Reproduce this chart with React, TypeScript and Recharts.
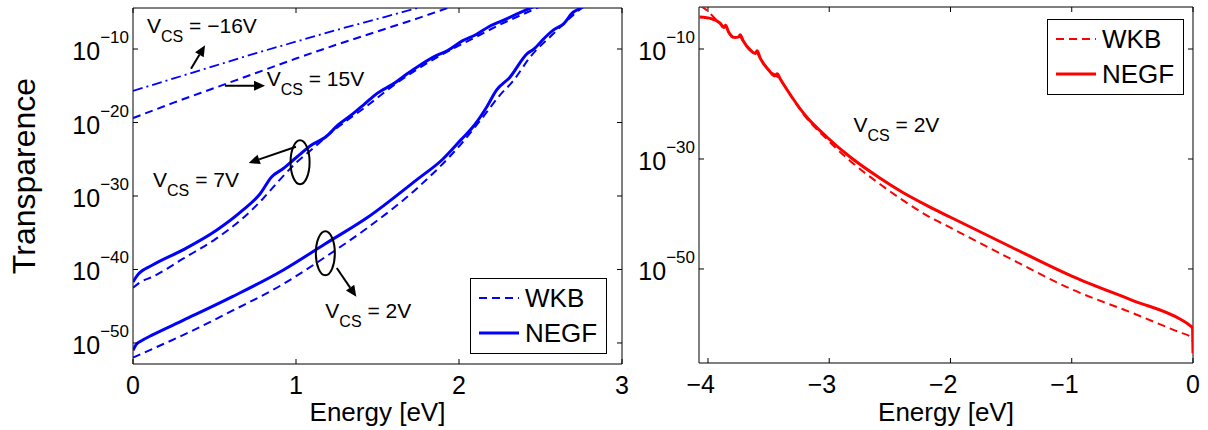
import React from 'react';
import {
  LineChart,
  Line,
  XAxis,
  YAxis,
  ReferenceArea,
  ReferenceDot,
  ReferenceLine,
  Legend,
} from 'recharts';

const FONT = "'Liberation Sans', Arial, Helvetica, sans-serif";
const BLUE = '#0000ff';
const RED = '#ff0000';

// values are log10(transparence)

// left panel, energy in eV
const v16Energy = [0, 0.25, 0.5, 0.75, 1.0, 1.25, 1.5, 1.75, 2.0];
const v16Wkb = [-15.7, -14.0, -12.3, -10.6, -9.0, -7.4, -5.9, -4.4, -2.9];

const v15Energy = [0, 0.25, 0.5, 0.75, 1.0, 1.25, 1.5, 1.75, 2.0, 2.2];
const v15Wkb = [-19.4, -17.3, -15.3, -13.3, -11.3, -9.4, -7.6, -5.8, -3.9, -2.5];

const v7NegfEnergy = [0, 0.03, 0.12, 0.31, 0.51, 0.67, 0.78, 0.85, 0.92, 1.0, 1.1, 1.18, 1.26, 1.35, 1.42, 1.5, 1.6, 1.68, 1.76, 1.86, 1.93, 2.02, 2.1, 2.18, 2.26, 2.35, 2.45, 2.55];
const v7Negf = [-41.7, -40.7, -39.4, -37.3, -34.7, -32.0, -29.7, -27.4, -26.3, -24.8, -23.0, -22.0, -20.3, -18.8, -17.5, -16.0, -14.7, -13.4, -12.2, -10.9, -10.2, -8.9, -8.1, -7.0, -6.2, -5.3, -4.3, -3.3];
const v7WkbEnergy = [0, 0.04, 0.12, 0.31, 0.51, 0.67, 0.8, 0.9, 1.0, 1.1, 1.23, 1.42, 1.62, 1.86, 2.1, 2.25, 2.45, 2.58];
const v7Wkb = [-42.5, -41.8, -41.0, -38.5, -35.8, -33.1, -30.3, -27.8, -25.5, -23.6, -21.1, -18.0, -14.6, -11.2, -8.4, -6.7, -4.7, -3.4];

const v2NegfEnergy = [0, 0.02, 0.06, 0.12, 0.31, 0.61, 0.92, 1.18, 1.44, 1.74, 1.9, 2.01, 2.1, 2.17, 2.23, 2.31, 2.42, 2.46, 2.52, 2.58, 2.64, 2.7, 2.75, 2.82];
const v2Negf = [-51.0, -50.2, -49.6, -48.9, -46.9, -43.7, -40.1, -36.5, -32.9, -27.8, -25.0, -22.4, -20.2, -17.9, -15.6, -13.9, -10.6, -10.0, -8.6, -7.4, -6.6, -5.0, -4.4, -3.2];
const v2WkbEnergy = [0, 0.12, 0.31, 0.61, 0.92, 1.18, 1.44, 1.74, 2.01, 2.17, 2.25, 2.33, 2.44, 2.58, 2.7, 2.8];
const v2Wkb = [-52.0, -50.8, -48.9, -45.6, -42.0, -38.3, -34.3, -29.0, -23.0, -18.6, -16.3, -14.4, -11.0, -7.9, -5.4, -3.6];

// right panel, V_CS = 2V, negative energies
const rNegfEnergy = [-4.07, -3.97, -3.9, -3.87, -3.855, -3.83, -3.78, -3.745, -3.735, -3.71, -3.65, -3.61, -3.595, -3.57, -3.5, -3.45, -3.43, -3.4, -3.3, -3.2, -3.02, -2.83, -2.58, -2.4, -2.2, -2.0, -1.5, -1.0, -0.5, -0.1, -0.03, -0.005, 0];
const rNegf = [-4.2, -4.5, -5.3, -6.1, -5.7, -6.9, -7.9, -7.8, -7.4, -8.5, -10.2, -10.8, -10.3, -11.6, -13.8, -14.9, -14.5, -15.6, -19.0, -22.0, -26.0, -29.6, -33.5, -36.0, -38.4, -40.6, -46.0, -51.3, -55.7, -59.2, -60.2, -60.7, -65.3];
const rWkbEnergy = [-4.06, -4.03, -3.97, -3.9, -3.86, -3.85, -3.83, -3.78, -3.74, -3.71, -3.65, -3.6, -3.57, -3.5, -3.44, -3.4, -3.3, -3.2, -3.02, -2.83, -2.58, -2.4, -2.2, -2.0, -1.5, -1.0, -0.5, -0.1, -0.03, 0];
const rWkb = [-2.2, -2.6, -3.8, -5.4, -6.0, -5.9, -7.0, -8.0, -7.7, -8.6, -10.3, -10.6, -11.7, -13.9, -14.8, -15.7, -19.1, -22.2, -26.4, -30.3, -34.6, -37.4, -40.2, -42.5, -48.2, -53.7, -58.0, -61.6, -62.2, -63.2];

const leftXTicks = [0, 1, 2, 3];
const leftYTicks = [-50, -40, -30, -20, -10];
const rightXTicks = [-4, -3, -2, -1, 0];
const rightYTicks = [-50, -30, -10];
const legendNames = ['WKB', 'NEGF'];

const toRows = (energy: number[], logT: number[]) =>
  energy.map((E, i) => ({ E, T: Math.pow(10, logT[i]) }));

const pow = (e: number) => Math.pow(10, e);

// layout
const L_W = 640;
const L_LEFT = 133;
const L_RIGHT = 622;
const L_TOP = 8;
const L_BOTTOM = 364;
const R_OFF = 610;
const R_W = 598;
const R_LEFT = 89;
const R_RIGHT = 583;
const R_TOP = 7;
const R_BOTTOM = 363;

function makeYTick(plotLeft: number, plotRight: number) {
  return (props: any) => {
    const { y, payload } = props;
    const n = Math.round(Math.log10(payload.value));
    return (
      <g>
        <line x1={plotLeft} x2={plotLeft + 5} y1={y} y2={y} stroke="#000" />
        <line x1={plotRight} x2={plotRight - 5} y1={y} y2={y} stroke="#000" />
        <text x={plotLeft - 4} y={y + 11} textAnchor="end" fontFamily={FONT} fill="#000">
          <tspan fontSize={25}>10</tspan>
          <tspan fontSize={17} dy={-17}>{`\u2212${Math.abs(n)}`}</tspan>
        </text>
      </g>
    );
  };
}

function makeXTick(plotTop: number, plotBottom: number) {
  return (props: any) => {
    const { x, payload } = props;
    const v = payload.value;
    const label = v < 0 ? `\u2212${Math.abs(v)}` : String(v);
    return (
      <g>
        <line x1={x} x2={x} y1={plotBottom} y2={plotBottom - 5} stroke="#000" />
        <line x1={x} x2={x} y1={plotTop} y2={plotTop + 5} stroke="#000" />
        <text x={x + 7} y={plotBottom + 30} textAnchor="end" fontSize={25} fontFamily={FONT} fill="#000">
          {label}
        </text>
      </g>
    );
  };
}

function VcsText({ cx, cy, value }: any) {
  return (
    <text x={cx} y={cy} fontFamily={FONT} fontSize={21} fill="#000">
      V
      <tspan fontSize={16} dy={9}>CS</tspan>
      <tspan dy={-9}>{` = ${value}`}</tspan>
    </text>
  );
}

function Arrow(props: any) {
  const { x1, y1, x2, y2 } = props;
  const a = Math.atan2(y2 - y1, x2 - x1);
  const len = 11;
  const w = 5;
  const bx = x2 - len * Math.cos(a);
  const by = y2 - len * Math.sin(a);
  const pts = `${x2},${y2} ${bx - w * Math.sin(a)},${by + w * Math.cos(a)} ${bx + w * Math.sin(a)},${by - w * Math.cos(a)}`;
  return (
    <g>
      <line x1={x1} y1={y1} x2={bx} y2={by} stroke="#000" strokeWidth={2} />
      <polygon points={pts} fill="#000" />
    </g>
  );
}

const Ellipse = (p: any) => (
  <ellipse cx={p.cx} cy={p.cy} rx={9.5} ry={22} fill="none" stroke="#000" strokeWidth={2} />
);

function LegendBox({ color }: { color: string }) {
  return (
    <svg width={137} height={76} style={{ display: 'block' }}>
      <rect x={0.5} y={0.5} width={136} height={75} fill="#fff" stroke="#000" />
      <line x1={9} x2={49} y1={20} y2={20} stroke={color} strokeWidth={2} strokeDasharray="8 5" />
      <text x={55} y={29} fontSize={26} fontFamily={FONT} fill="#000">{legendNames[0]}</text>
      <line x1={9} x2={49} y1={55} y2={55} stroke={color} strokeWidth={3} />
      <text x={55} y={64} fontSize={26} fontFamily={FONT} fill="#000">{legendNames[1]}</text>
    </svg>
  );
}

const xTitle = (cx: number) => () => (
  <text x={cx} y={421} textAnchor="middle" fontSize={26} fontFamily={FONT} fill="#000">
    Energy [eV]
  </text>
);

const yTitle = () => (
  <text x={35} y={176} transform="rotate(-90, 35, 176)" textAnchor="middle" fontSize={32} fontFamily={FONT} fill="#000">
    Transparence
  </text>
);

const L_YDOM: [number, number] = [pow(-52.86), pow(-4.42)];
const R_YDOM: [number, number] = [pow(-67.1), pow(-2.36)];
const R_XMIN = -4.074;

export default function App() {
  return (
    <div style={{ position: 'absolute', left: 0, top: 0, width: 1208, height: 430, background: '#fff' }}>
      <div style={{ position: 'absolute', left: 0, top: 0 }}>
        <LineChart width={L_W} height={430} margin={{ top: L_TOP, right: L_W - L_RIGHT, bottom: 430 - L_BOTTOM - 30, left: 0 }}>
          <XAxis
            type="number"
            dataKey="E"
            domain={[0, 3]}
            ticks={leftXTicks}
            interval={0}
            allowDataOverflow
            height={30}
            axisLine={false}
            tickLine={false}
            tick={makeXTick(L_TOP, L_BOTTOM)}
            label={{ content: xTitle((L_LEFT + L_RIGHT) / 2) }}
          />
          <YAxis
            type="number"
            scale="log"
            domain={L_YDOM}
            ticks={leftYTicks.map(pow)}
            interval={0}
            allowDataOverflow
            width={L_LEFT}
            axisLine={false}
            tickLine={false}
            tick={makeYTick(L_LEFT, L_RIGHT)}
            label={{ content: yTitle }}
          />
          <ReferenceArea x1={0} x2={3} y1={L_YDOM[0]} y2={L_YDOM[1]} fill="none" stroke="#000" strokeWidth={1} />
          <Line data={toRows(v16Energy, v16Wkb)} dataKey="T" type="monotone" stroke={BLUE} strokeWidth={1.8} strokeDasharray="10 4 2 4" dot={false} isAnimationActive={false} />
          <Line data={toRows(v15Energy, v15Wkb)} dataKey="T" type="monotone" stroke={BLUE} strokeWidth={2} strokeDasharray="8 5" dot={false} isAnimationActive={false} />
          <Line data={toRows(v7WkbEnergy, v7Wkb)} dataKey="T" type="monotone" stroke={BLUE} strokeWidth={2} strokeDasharray="8 5" dot={false} isAnimationActive={false} />
          <Line data={toRows(v7NegfEnergy, v7Negf)} dataKey="T" type="monotone" stroke={BLUE} strokeWidth={3} dot={false} isAnimationActive={false} />
          <Line data={toRows(v2WkbEnergy, v2Wkb)} dataKey="T" type="monotone" stroke={BLUE} strokeWidth={2} strokeDasharray="8 5" dot={false} isAnimationActive={false} />
          <Line data={toRows(v2NegfEnergy, v2Negf)} dataKey="T" type="monotone" stroke={BLUE} strokeWidth={3} dot={false} isAnimationActive={false} />

          <ReferenceDot x={0.086} y={pow(-7.8)} r={1} shape={(p: any) => <VcsText {...p} value={'\u221216V'} />} />
          <ReferenceDot x={0.82} y={pow(-15.0)} r={1} shape={(p: any) => <VcsText {...p} value="15V" />} />
          <ReferenceDot x={0.123} y={pow(-28.8)} r={1} shape={(p: any) => <VcsText {...p} value="7V" />} />
          <ReferenceDot x={1.18} y={pow(-46.6)} r={1} shape={(p: any) => <VcsText {...p} value="2V" />} />
          <ReferenceDot x={1.025} y={pow(-25.4)} r={1} shape={Ellipse} />
          <ReferenceDot x={1.18} y={pow(-37.8)} r={1} shape={Ellipse} />
          <ReferenceLine segment={[{ x: 0.356, y: pow(-12.7) }, { x: 0.442, y: pow(-9.5) }]} shape={Arrow} />
          <ReferenceLine segment={[{ x: 0.564, y: pow(-15.0) }, { x: 0.81, y: pow(-15.0) }]} shape={Arrow} />
          <ReferenceLine segment={[{ x: 1.0, y: pow(-23.3) }, { x: 0.71, y: pow(-25.5) }]} shape={Arrow} />
          <ReferenceLine segment={[{ x: 1.25, y: pow(-39.8) }, { x: 1.37, y: pow(-43.7) }]} shape={Arrow} />

          <Legend
            layout="horizontal"
            verticalAlign="middle"
            align="center"
            wrapperStyle={{ left: 470, top: 278, width: 137, height: 76 }}
            content={() => <LegendBox color={BLUE} />}
          />
        </LineChart>
      </div>

      <div style={{ position: 'absolute', left: R_OFF, top: 0 }}>
        <LineChart width={R_W} height={430} margin={{ top: R_TOP, right: R_W - R_RIGHT, bottom: 430 - R_BOTTOM - 30, left: 0 }}>
          <XAxis
            type="number"
            dataKey="E"
            domain={[R_XMIN, 0]}
            ticks={rightXTicks}
            interval={0}
            allowDataOverflow
            height={30}
            axisLine={false}
            tickLine={false}
            tick={makeXTick(R_TOP, R_BOTTOM)}
            label={{ content: xTitle((R_LEFT + R_RIGHT) / 2) }}
          />
          <YAxis
            type="number"
            scale="log"
            domain={R_YDOM}
            ticks={rightYTicks.map(pow)}
            interval={0}
            allowDataOverflow
            width={R_LEFT}
            axisLine={false}
            tickLine={false}
            tick={makeYTick(R_LEFT, R_RIGHT)}
          />
          <ReferenceArea x1={R_XMIN} x2={0} y1={R_YDOM[0]} y2={R_YDOM[1]} fill="none" stroke="#000" strokeWidth={1} />
          <Line data={toRows(rWkbEnergy, rWkb)} dataKey="T" type="monotone" stroke={RED} strokeWidth={2} strokeDasharray="8 5" dot={false} isAnimationActive={false} />
          <Line data={toRows(rNegfEnergy, rNegf)} dataKey="T" type="monotone" stroke={RED} strokeWidth={3} dot={false} isAnimationActive={false} />
          <ReferenceDot x={-2.8} y={pow(-25.1)} r={1} shape={(p: any) => <VcsText {...p} value="2V" />} />
          <Legend
            layout="horizontal"
            verticalAlign="middle"
            align="center"
            wrapperStyle={{ left: 437, top: 19, width: 137, height: 76 }}
            content={() => <LegendBox color={RED} />}
          />
        </LineChart>
      </div>
    </div>
  );
}
